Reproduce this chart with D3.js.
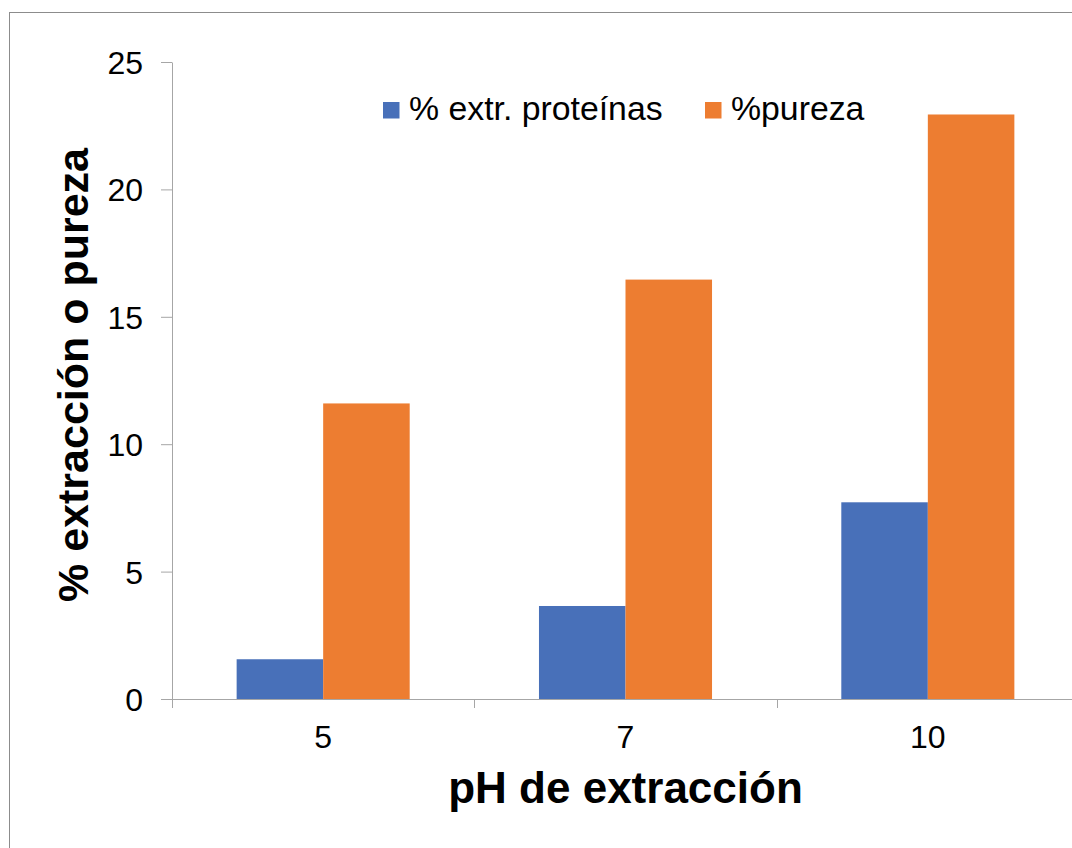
<!DOCTYPE html>
<html>
<head>
<meta charset="utf-8">
<script src="https://cdn.jsdelivr.net/npm/d3@7"></script>
<style>
  html, body { margin: 0; padding: 0; background: #fff; }
  svg { display: block; }
  text { font-family: "Liberation Sans", Arial, sans-serif; fill: #000; }
</style>
</head>
<body>
<svg id="chart" width="1072" height="848"></svg>
<script>
// pH values used for extraction (categories)
const categories = ["5", "7", "10"];
// Series names
const seriesNames = ["% extr. proteínas", "%pureza"];
// Protein extraction yield (%) per pH
const extraccion = [1.56, 3.65, 7.72];
// Purity (%) per pH
const pureza = [11.6, 16.46, 22.94];
// Y-axis tick values
const yTicks = [0, 5, 10, 15, 20, 25];
const colors = ["#4870B9", "#ED7D31"];

const seriesValues = [extraccion, pureza];
const rows = categories.map((c, i) => ({
  cat: c,
  values: seriesNames.map((s, j) => ({ key: s, value: seriesValues[j][i], color: colors[j] }))
}));

const svg = d3.select("#chart");
const axisColor = "#a6a6a6";

// Outer frame of the chart area
svg.append("rect")
  .attr("x", 9.5).attr("y", 12.5)
  .attr("width", 1090).attr("height", 860)
  .attr("fill", "none").attr("stroke", "#8c8c8c").attr("stroke-width", 1);

const plot = { left: 172, right: 1079, top: 62, bottom: 699 };

const x0 = d3.scaleBand().domain(categories).range([plot.left, plot.right]).paddingInner(0).paddingOuter(0);
const x1 = d3.scaleBand().domain(seriesNames).range([0, x0.bandwidth()]).paddingInner(0).paddingOuter(0.747);
const y = d3.scaleLinear().domain([0, 25]).range([plot.bottom, plot.top]);

// Bars
const groups = svg.append("g").selectAll("g").data(rows).join("g")
  .attr("transform", d => `translate(${x0(d.cat)},0)`);
groups.selectAll("rect").data(d => d.values).join("rect")
  .attr("x", d => x1(d.key))
  .attr("y", d => y(d.value))
  .attr("width", x1.bandwidth())
  .attr("height", d => y(0) - y(d.value))
  .attr("fill", d => d.color);

// Y axis
const yAxis = svg.append("g")
  .attr("transform", `translate(${plot.left},0)`)
  .call(d3.axisLeft(y).tickValues(yTicks).tickSize(11).tickPadding(18).tickSizeOuter(0));
yAxis.select(".domain").attr("stroke", axisColor);
yAxis.selectAll(".tick line").attr("stroke", axisColor);
yAxis.selectAll(".tick text")
  .attr("font-size", 32)
  .attr("font-family", "'Liberation Sans', Arial, sans-serif")
  .attr("fill", "#000")
  .attr("dy", "0.36em");

// X axis baseline, extended left to meet the zero tick
svg.append("line")
  .attr("x1", plot.left - 11).attr("x2", plot.right)
  .attr("y1", plot.bottom + 0.5).attr("y2", plot.bottom + 0.5)
  .attr("stroke", axisColor);

// Category divider ticks
const boundaries = categories.map(c => x0(c)).concat([plot.right]);
svg.append("g").selectAll("line").data(boundaries).join("line")
  .attr("x1", d => Math.round(d) + 0.5).attr("x2", d => Math.round(d) + 0.5)
  .attr("y1", plot.bottom).attr("y2", plot.bottom + 9)
  .attr("stroke", axisColor);

// Category labels
svg.append("g").selectAll("text").data(categories).join("text")
  .attr("x", d => x0(d) + x0.bandwidth() / 2)
  .attr("y", 748)
  .attr("text-anchor", "middle")
  .attr("font-size", 32)
  .text(d => d);

// Axis titles
svg.append("text")
  .attr("x", (plot.left + plot.right) / 2)
  .attr("y", 803)
  .attr("text-anchor", "middle")
  .attr("font-size", 44)
  .attr("font-weight", "bold")
  .text("pH de extracción");

svg.append("text")
  .attr("transform", "translate(88,375) rotate(-90)")
  .attr("text-anchor", "middle")
  .attr("font-size", 43)
  .attr("font-weight", "bold")
  .text("% extracción o pureza");

// Legend
const legendItems = [
  { key: seriesNames[0], color: colors[0], sx: 383, tx: 409 },
  { key: seriesNames[1], color: colors[1], sx: 705, tx: 731 }
];
const legend = svg.append("g").selectAll("g").data(legendItems).join("g");
legend.append("rect")
  .attr("x", d => d.sx).attr("y", 102)
  .attr("width", 16.5).attr("height", 16.5)
  .attr("fill", d => d.color);
legend.append("text")
  .attr("x", d => d.tx).attr("y", 120)
  .attr("font-size", 33.8)
  .text(d => d.key);
</script>
</body>
</html>
